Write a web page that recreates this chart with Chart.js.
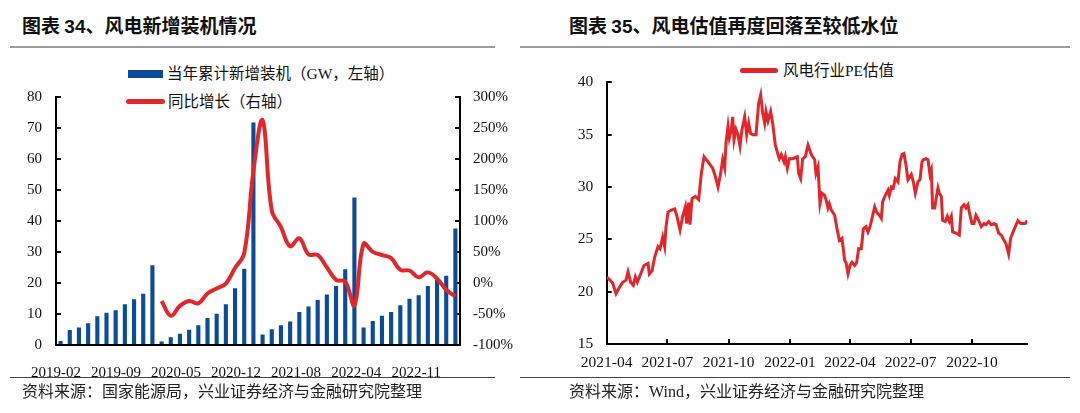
<!DOCTYPE html>
<html>
<head>
<meta charset="utf-8">
<script src="https://cdn.jsdelivr.net/npm/chart.js@4.4.1/dist/chart.umd.min.js"></script>
<style>
    body {
        margin: 0;
        width: 1080px;
        height: 413px;
        background: #fff;
        position: relative;
        overflow: hidden;
        font-family: 'Liberation Serif', 'Noto Sans CJK SC', serif;
        color: #111;
    }
    .abs { position: absolute; white-space: nowrap; }
    .title {
        font-family: 'Noto Sans CJK SC', sans-serif;
        font-weight: 700;
        font-size: 19px;
        line-height: 26px;
        top: 12px;
    }
    .title b { font-family: 'Liberation Sans', sans-serif; }
    .rule-top { position: absolute; top: 46px; height: 2px; background: #9a9a9a; }
    .rule-bottom { position: absolute; top: 377px; height: 1px; background: #444; }
    .source { font-size: 16px; line-height: 22px; top: 381px; color: #222; }
    .legend-text { font-size: 15.5px; line-height: 20px; }
    canvas { position: absolute; }
</style>
</head>
<body>

<div class="abs title" style="left:22px">图表 <b>34</b>、风电新增装机情况</div>
<div class="rule-top" style="left:10px; width:485px"></div>
<div class="abs" style="left:128px; top:70px; width:35px; height:8px; background:#0a4c9b"></div>
<div class="abs legend-text" style="left:167px; top:64px">当年累计新增装机（GW，左轴）</div>
<div class="abs" style="left:126px; top:99px; width:39px; height:5px; border-radius:3px; background:#e3262a"></div>
<div class="abs legend-text" style="left:168px; top:92px">同比增长（右轴）</div>
<canvas id="capChart" width="520" height="330" style="left:0; top:50px; width:520px; height:330px"></canvas>
<div class="rule-bottom" style="left:10px; width:485px"></div>
<div class="abs source" style="left:22px">资料来源：国家能源局，兴业证券经济与金融研究院整理</div>

<div class="abs title" style="left:569px">图表 <b>35</b>、风电估值再度回落至较低水位</div>
<div class="rule-top" style="left:520px; width:550px"></div>
<div class="abs" style="left:740px; top:68px; width:38px; height:5px; border-radius:3px; background:#e3262a"></div>
<div class="abs legend-text" style="left:783px; top:61px">风电行业PE估值</div>
<canvas id="peChart" width="540" height="330" style="left:540px; top:50px; width:540px; height:330px"></canvas>
<div class="rule-bottom" style="left:520px; width:550px"></div>
<div class="abs source" style="left:569px">资料来源：Wind，兴业证券经济与金融研究院整理</div>

<script>
// 图表34 数据：当年累计新增装机（GW）与同比增长（%）
const capMonths = [
    '2019-02', '2019-03', '2019-04', '2019-05', '2019-06', '2019-07', '2019-08', '2019-09', '2019-10', '2019-11', '2019-12',
    '2020-02', '2020-03', '2020-04', '2020-05', '2020-06', '2020-07', '2020-08', '2020-09', '2020-10', '2020-11', '2020-12',
    '2021-02', '2021-03', '2021-04', '2021-05', '2021-06', '2021-07', '2021-08', '2021-09', '2021-10', '2021-11', '2021-12',
    '2022-02', '2022-03', '2022-04', '2022-05', '2022-06', '2022-07', '2022-08', '2022-09', '2022-10', '2022-11', '2022-12',
];
const capNew = [
    1.3, 4.8, 5.6, 7.0, 9.3, 10.4, 11.2, 13.1, 14.7, 16.5, 25.7,
    1.1, 2.5, 3.6, 4.9, 6.4, 8.7, 10.1, 13.1, 18.3, 24.6, 71.7,
    3.4, 5.1, 6.4, 7.6, 10.6, 12.4, 14.5, 16.3, 19.0, 24.4, 47.5,
    5.6, 7.7, 9.4, 10.6, 12.8, 14.9, 16.0, 19.0, 21.1, 22.3, 37.5,
];
const capYoY = [
    null, null, null, null, null, null, null, null, null, null, null,
    -29, -53, -37, -29, -33, -17, -9, -1, 24, 48, 180,
    262, 117, 90, 59, 72, 46, 45, 25, 5, 2, -36,
    63, 50, 45, 40, 21, 20, 9, 17, 7, -11, -22,
];
const capTickLabels = ['2019-02', '2019-09', '2020-05', '2020-12', '2021-08', '2022-04', '2022-11'];

// 图表35 数据：风电行业PE估值
const peDates = [
    '2021-04-01', '2021-04-06', '2021-04-10', '2021-04-15', '2021-04-20', '2021-04-25', '2021-04-30',
    '2021-05-03', '2021-05-07', '2021-05-11', '2021-05-14', '2021-05-17', '2021-05-22', '2021-05-27',
    '2021-06-02', '2021-06-04', '2021-06-08', '2021-06-12', '2021-06-17', '2021-06-20', '2021-06-24', '2021-06-27', '2021-06-29',
    '2021-07-02', '2021-07-07', '2021-07-12', '2021-07-15', '2021-07-20', '2021-07-24', '2021-07-28', '2021-07-30',
    '2021-08-02', '2021-08-04', '2021-08-07', '2021-08-12', '2021-08-17', '2021-08-21', '2021-08-25', '2021-08-31',
    '2021-09-07', '2021-09-11', '2021-09-15', '2021-09-19', '2021-09-22', '2021-09-25', '2021-09-27', '2021-09-30',
    '2021-10-02', '2021-10-05', '2021-10-07', '2021-10-09', '2021-10-12', '2021-10-15', '2021-10-18', '2021-10-21', '2021-10-25', '2021-10-28', '2021-10-31',
    '2021-11-03', '2021-11-06', '2021-11-11', '2021-11-15', '2021-11-18', '2021-11-21', '2021-11-24', '2021-11-26', '2021-11-29',
    '2021-12-03', '2021-12-06', '2021-12-10', '2021-12-14', '2021-12-16', '2021-12-19', '2021-12-23', '2021-12-25', '2021-12-28', '2021-12-31',
    '2022-01-05', '2022-01-12', '2022-01-14', '2022-01-17', '2022-01-20', '2022-01-24', '2022-01-28',
    '2022-02-02', '2022-02-07', '2022-02-09', '2022-02-12', '2022-02-15', '2022-02-18', '2022-02-22', '2022-02-24', '2022-02-27',
    '2022-03-01', '2022-03-04', '2022-03-09', '2022-03-12', '2022-03-16', '2022-03-20', '2022-03-24', '2022-03-26', '2022-03-29',
    '2022-04-01', '2022-04-04', '2022-04-08', '2022-04-11', '2022-04-14', '2022-04-18', '2022-04-21', '2022-04-25', '2022-04-28',
    '2022-05-01', '2022-05-04', '2022-05-08', '2022-05-11', '2022-05-15', '2022-05-18', '2022-05-20', '2022-05-24', '2022-05-28', '2022-05-30',
    '2022-06-02', '2022-06-05', '2022-06-08', '2022-06-12', '2022-06-15', '2022-06-18', '2022-06-21', '2022-06-24', '2022-06-27',
    '2022-07-02', '2022-07-05', '2022-07-08', '2022-07-12', '2022-07-15', '2022-07-18', '2022-07-20', '2022-07-24', '2022-07-27', '2022-07-30',
    '2022-08-01', '2022-08-03', '2022-08-06', '2022-08-08', '2022-08-11', '2022-08-13', '2022-08-16', '2022-08-18', '2022-08-22', '2022-08-25', '2022-08-28', '2022-08-31',
    '2022-09-02', '2022-09-07', '2022-09-12', '2022-09-15', '2022-09-19', '2022-09-22', '2022-09-25', '2022-09-27',
    '2022-10-01', '2022-10-04', '2022-10-07', '2022-10-11', '2022-10-15', '2022-10-19', '2022-10-22', '2022-10-26', '2022-10-30',
    '2022-11-03', '2022-11-06', '2022-11-10', '2022-11-14', '2022-11-18', '2022-11-21', '2022-11-25', '2022-11-28',
    '2022-12-01', '2022-12-05', '2022-12-09', '2022-12-13', '2022-12-16', '2022-12-20', '2022-12-23',
];
const peValues = [
    21.4, 21.1, 20.8, 19.8, 20.4, 20.9, 21.1,
    21.9, 20.9, 20.6, 21.4, 20.9, 21.7, 22.5,
    22.7, 21.7, 22.0, 23.3, 24.3, 24.1, 25.2, 24.3, 26.2,
    27.6, 27.8, 27.9, 27.3, 25.9, 27.2, 28.1, 26.5,
    28.5, 26.4, 28.9, 29.1, 28.8, 31.3, 32.9, 32.4,
    31.8, 31.0, 30.0, 31.3, 32.6, 31.8, 34.2, 35.8,
    34.7, 35.5, 36.7, 34.5, 35.5, 35.0, 33.9, 35.5, 36.7, 35.0, 36.1,
    35.1, 35.0, 35.0, 38.0, 38.8, 37.1, 36.1, 37.2, 36.3,
    37.2, 36.1, 34.0, 33.1, 32.7, 33.1, 32.4, 32.9, 31.8, 32.7,
    32.7, 32.9, 31.3, 30.8, 32.7, 32.9, 34.0,
    33.1, 32.6, 31.3, 31.9, 28.4, 29.4, 29.2, 28.8, 28.0,
    28.4, 27.8, 27.3, 26.2, 24.9, 25.1, 23.0, 22.8, 21.7,
    22.5, 22.8, 22.5, 22.8, 24.1, 24.1, 26.0, 26.2, 25.7,
    26.2, 27.0, 28.1, 27.6, 27.3, 27.0, 28.6, 29.2, 29.7, 29.2,
    30.0, 29.9, 30.8, 30.5, 32.4, 33.1, 33.2, 32.1, 30.7,
    31.2, 30.5, 29.4, 30.5, 30.7, 32.4, 32.6, 32.7, 32.6, 31.2,
    31.6, 28.0, 28.0, 28.8, 29.9, 29.4, 29.1, 26.8, 26.7, 27.2, 26.7, 27.2,
    25.7, 25.6, 25.4, 28.0, 28.3, 28.0, 28.3, 27.6,
    26.5, 26.5, 27.3, 26.8, 26.2, 26.5, 26.4, 26.7, 26.4,
    26.5, 26.4, 25.6, 25.4, 24.9, 24.6, 23.6, 25.1,
    25.6, 26.2, 26.8, 26.5, 26.5, 26.5, 26.8,
];
const peTickLabels = ['2021-04', '2021-07', '2021-10', '2022-01', '2022-04', '2022-07', '2022-10'];

const tickFamily = 'Liberation Serif';
Chart.defaults.font.family = tickFamily;
Chart.defaults.color = '#111';

// 坐标轴：黑色实线，刻度线朝内
function axisGrid() {
    return {
        display: true,
        drawOnChartArea: false,
        drawTicks: true,
        tickLength: -5,
        color: '#000',
        lineWidth: 2,
    };
}
const axisBorder = { display: true, color: '#000', width: 2 };

// ---------- 图表34 ----------
new Chart(document.getElementById('capChart'), {
    data: {
        labels: capMonths,
        datasets: [
            {
                type: 'line',
                label: '同比增长（右轴）',
                data: capYoY,
                yAxisID: 'yR',
                borderColor: '#e3262a',
                borderWidth: 4,
                pointRadius: 0,
                tension: 0.4,
                order: 0,
            },
            {
                type: 'bar',
                label: '当年累计新增装机（GW，左轴）',
                data: capNew,
                yAxisID: 'yL',
                backgroundColor: '#0a4c9b',
                barPercentage: 0.45,
                categoryPercentage: 1,
                order: 1,
            },
        ],
    },
    options: {
        responsive: false,
        animation: false,
        layout: { padding: { top: 46.7, left: 0, right: 0, bottom: 0 } },
        plugins: { legend: { display: false }, tooltip: { enabled: false } },
        scales: {
            x: {
                type: 'category',
                offset: true,
                grid: { display: false },
                border: axisBorder,
                ticks: { display: false },
                afterFit: (s) => { s.height = 0; },
            },
            // 原图的日期标签等距排列，比柱子略密
            xLab: {
                type: 'linear',
                position: 'bottom',
                min: 0,
                max: 6.73,
                grid: { display: false },
                border: { display: false },
                afterBuildTicks: (s) => {
                    s.ticks = capTickLabels.map((t, i) => ({ value: i }));
                },
                ticks: {
                    autoSkip: false,
                    maxRotation: 0,
                    padding: 11,
                    font: { family: tickFamily, size: 15 },
                    callback: (v, i) => capTickLabels[i],
                },
                afterFit: (s) => { s.height = 35; },
            },
            yL: {
                position: 'left',
                min: 0,
                max: 80,
                grid: axisGrid(),
                border: axisBorder,
                ticks: { stepSize: 10, padding: 19, font: { family: tickFamily, size: 15 } },
                afterFit: (s) => { s.width = 56; },
            },
            yR: {
                position: 'right',
                min: -100,
                max: 300,
                grid: axisGrid(),
                border: axisBorder,
                ticks: {
                    stepSize: 50,
                    padding: 18,
                    font: { family: tickFamily, size: 15 },
                    callback: (v) => v + '%',
                },
                afterFit: (s) => { s.width = 60; },
            },
        },
    },
});

// ---------- 图表35 ----------
function dayNo(str) {
    const [y, m, d] = str.split('-').map(Number);
    return Date.UTC(y, m - 1, d || 1) / 86400000;
}
const peBase = dayNo(peDates[0]);
const pePoints = peDates.map((d, i) => ({ x: dayNo(d) - peBase, y: peValues[i] }));
const peTickDays = peTickLabels.map((t) => dayNo(t) - peBase);

new Chart(document.getElementById('peChart'), {
    type: 'line',
    data: {
        datasets: [
            {
                label: '风电行业PE估值',
                data: pePoints,
                borderColor: '#e3262a',
                borderWidth: 3,
                pointRadius: 0,
                tension: 0,
            },
        ],
    },
    options: {
        responsive: false,
        animation: false,
        layout: { padding: { top: 32.3, left: 0, right: 52.7, bottom: 0 } },
        plugins: { legend: { display: false }, tooltip: { enabled: false } },
        scales: {
            x: {
                type: 'linear',
                min: 0,
                max: pePoints[pePoints.length - 1].x,
                grid: axisGrid(),
                border: axisBorder,
                afterBuildTicks: (s) => {
                    s.ticks = peTickDays.map((v) => ({ value: v }));
                },
                ticks: {
                    autoSkip: false,
                    maxRotation: 0,
                    padding: 15,
                    font: { family: tickFamily, size: 15.5 },
                    callback: (v, i) => peTickLabels[i],
                },
                afterFit: (s) => { s.height = 36; },
            },
            y: {
                min: 15,
                max: 40,
                grid: axisGrid(),
                border: axisBorder,
                ticks: { stepSize: 5, padding: 18.4, font: { family: tickFamily, size: 15.5 } },
                afterFit: (s) => { s.width = 66.7; },
            },
        },
    },
});
</script>
</body>
</html>
